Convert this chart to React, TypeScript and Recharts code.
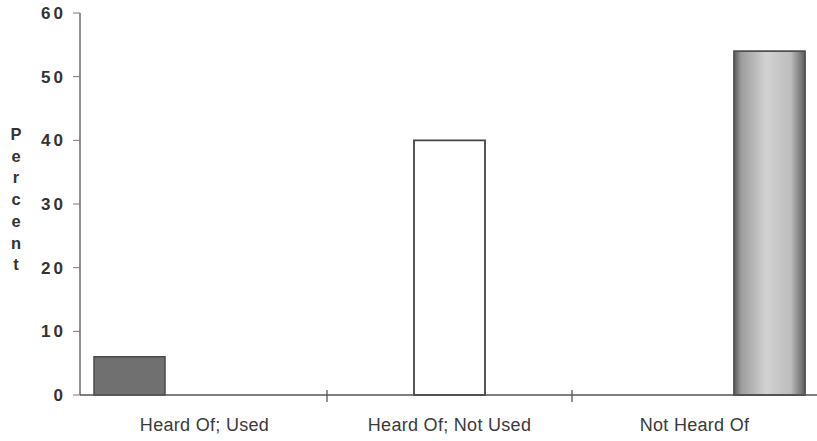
import React from 'react';
import { BarChart, Bar, XAxis, YAxis } from 'recharts';

// Awareness categories along the x axis
const categories = ['Heard Of; Used', 'Heard Of; Not Used', 'Not Heard Of'];

// Percent of respondents, one series per awareness group
const heardUsed = [6, 0, 0];
const heardNotUsed = [0, 40, 0];
const notHeard = [0, 0, 54];

const yTicks = [0, 10, 20, 30, 40, 50, 60];
const yTitle = 'Percent';

const data = categories.map((name, i) => ({
  name,
  heardUsed: heardUsed[i],
  heardNotUsed: heardNotUsed[i],
  notHeard: notHeard[i],
}));

const FONT = '"Liberation Sans", Arial, Helvetica, sans-serif';

const CategoryTick = (props: any) => {
  const { x, y, payload, index } = props;
  const half = payload && typeof payload.offset === 'number' ? payload.offset : 0;
  return (
    <g>
      {index > 0 && (
        <line x1={x - half} x2={x - half} y1={y - 5} y2={y + 7} stroke="#555" strokeWidth={1.3} />
      )}
      <text
        x={x}
        y={y + 23}
        dy="0.71em"
        textAnchor="middle"
        fontFamily={FONT}
        fontSize={18}
        letterSpacing={0.3}
        fill="#3a3a3a"
      >
        {payload.value}
      </text>
    </g>
  );
};

const StackedTitle = (props: any) => {
  const vb = props.viewBox || { x: 0 };
  return (
    <text
      x={vb.x + 16}
      y={140}
      textAnchor="middle"
      fontFamily={FONT}
      fontSize={16.5}
      fontWeight="bold"
      fill="#333"
    >
      {yTitle.split('').map((ch, i) => (
        <tspan key={i} x={vb.x + 16} dy={i === 0 ? 0 : 21.7}>
          {ch}
        </tspan>
      ))}
    </text>
  );
};

export default function App() {
  return (
    <div style={{ position: 'fixed', left: 0, top: 0, width: 817, height: 441, background: '#fff' }}>
      <BarChart
        width={817}
        height={441}
        data={data}
        margin={{ top: 13, right: 0, bottom: 0, left: 0 }}
        barSize={71}
        barGap={4}
      >
        <defs>
          <linearGradient id="notHeardFill" x1="0" y1="0" x2="1" y2="0">
            <stop offset="0%" stopColor="#5a5a5a" />
            <stop offset="10%" stopColor="#9c9c9c" />
            <stop offset="45%" stopColor="#d2d2d2" />
            <stop offset="80%" stopColor="#bdbdbd" />
            <stop offset="100%" stopColor="#5e5e5e" />
          </linearGradient>
        </defs>
        <XAxis
          dataKey="name"
          height={46}
          padding={{ left: 2, right: 0 }}
          tickLine={false}
          tickSize={0}
          tickMargin={0}
          axisLine={{ stroke: '#555', strokeWidth: 1.3 }}
          tick={<CategoryTick />}
          interval={0}
        />
        <YAxis
          width={80}
          domain={[0, 60]}
          ticks={yTicks}
          interval={0}
          tickSize={7}
          tickMargin={7}
          axisLine={{ stroke: '#555', strokeWidth: 1.3 }}
          tickLine={{ stroke: '#777', strokeWidth: 1 }}
          tick={{ fontFamily: FONT, fontSize: 17, fontWeight: 'bold', fill: '#333', letterSpacing: 3 }}
          label={{ content: <StackedTitle /> }}
        />
        <Bar dataKey="heardUsed" fill="#707070" stroke="#4a4a4a" strokeWidth={1.5} isAnimationActive={false} />
        <Bar dataKey="heardNotUsed" fill="#ffffff" stroke="#444" strokeWidth={1.8} isAnimationActive={false} />
        <Bar dataKey="notHeard" fill="url(#notHeardFill)" stroke="#505050" strokeWidth={1.8} isAnimationActive={false} />
      </BarChart>
    </div>
  );
}
